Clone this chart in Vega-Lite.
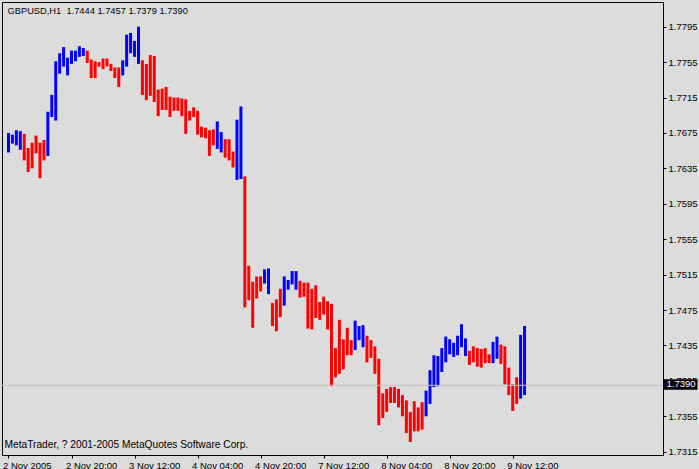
{
  "$schema": "https://vega.github.io/schema/vega-lite/v6.json",
  "autosize": "none",
  "padding": {"left": 2, "top": 2, "right": 36, "bottom": 14},
  "width": 661,
  "height": 453,
  "background": "#DCDCDC",
  "config": {
    "view": {"stroke": "#000000", "strokeWidth": 1, "fill": "#DCDCDC"},
    "axis": {"labelFont": "Liberation Sans", "labelFontSize": 9.5, "labelColor": "#000000", "tickColor": "#000000", "domain": false, "grid": false, "labelOverlap": false, "labelFlush": false, "labelBound": false}
  },
  "resolve": {"axis": {"y": "independent"}},
  "datasets": {
    "bars": [
      {"i":0,"h":1.7675,"l":1.7653,"c":"up"},{"i":1,"h":1.7673,"l":1.7663,"c":"up"},{"i":2,"h":1.7678,"l":1.7661,"c":"up"},{"i":3,"h":1.7677,"l":1.7656,"c":"up"},
      {"i":4,"h":1.7674,"l":1.7644,"c":"dn"},{"i":5,"h":1.7658,"l":1.7631,"c":"dn"},{"i":6,"h":1.7664,"l":1.7635,"c":"dn"},{"i":7,"h":1.7672,"l":1.7652,"c":"dn"},
      {"i":8,"h":1.7664,"l":1.7624,"c":"dn"},{"i":9,"h":1.7667,"l":1.7644,"c":"dn"},{"i":10,"h":1.7699,"l":1.7649,"c":"up"},{"i":11,"h":1.7718,"l":1.7693,"c":"up"},
      {"i":12,"h":1.7756,"l":1.7689,"c":"up"},{"i":13,"h":1.7765,"l":1.7742,"c":"up"},{"i":14,"h":1.7772,"l":1.7750,"c":"up"},{"i":15,"h":1.7760,"l":1.7740,"c":"up"},
      {"i":16,"h":1.7768,"l":1.7753,"c":"up"},{"i":17,"h":1.7768,"l":1.7756,"c":"up"},{"i":18,"h":1.7773,"l":1.7761,"c":"up"},{"i":19,"h":1.7771,"l":1.7762,"c":"up"},
      {"i":20,"h":1.7768,"l":1.7754,"c":"dn"},{"i":21,"h":1.7758,"l":1.7737,"c":"dn"},{"i":22,"h":1.7756,"l":1.7737,"c":"dn"},{"i":23,"h":1.7755,"l":1.7750,"c":"dn"},
      {"i":24,"h":1.7759,"l":1.7747,"c":"dn"},{"i":25,"h":1.7759,"l":1.7750,"c":"dn"},{"i":26,"h":1.7753,"l":1.7745,"c":"dn"},{"i":27,"h":1.7749,"l":1.7737,"c":"dn"},
      {"i":28,"h":1.7749,"l":1.7727,"c":"dn"},{"i":29,"h":1.7757,"l":1.7740,"c":"up"},{"i":30,"h":1.7786,"l":1.7750,"c":"up"},{"i":31,"h":1.7788,"l":1.7765,"c":"up"},
      {"i":32,"h":1.7779,"l":1.7761,"c":"up"},{"i":33,"h":1.7795,"l":1.7753,"c":"up"},{"i":34,"h":1.7757,"l":1.7718,"c":"dn"},{"i":35,"h":1.7753,"l":1.7712,"c":"dn"},
      {"i":36,"h":1.7763,"l":1.7717,"c":"dn"},{"i":37,"h":1.7762,"l":1.7710,"c":"dn"},{"i":38,"h":1.7724,"l":1.7694,"c":"dn"},{"i":39,"h":1.7725,"l":1.7701,"c":"dn"},
      {"i":40,"h":1.7727,"l":1.7701,"c":"dn"},{"i":41,"h":1.7716,"l":1.7693,"c":"dn"},{"i":42,"h":1.7715,"l":1.7700,"c":"dn"},{"i":43,"h":1.7715,"l":1.7700,"c":"dn"},
      {"i":44,"h":1.7714,"l":1.7694,"c":"dn"},{"i":45,"h":1.7713,"l":1.7674,"c":"dn"},{"i":46,"h":1.7700,"l":1.7689,"c":"dn"},{"i":47,"h":1.7704,"l":1.7693,"c":"dn"},
      {"i":48,"h":1.7700,"l":1.7673,"c":"dn"},{"i":49,"h":1.7682,"l":1.7670,"c":"dn"},{"i":50,"h":1.7681,"l":1.7669,"c":"dn"},{"i":51,"h":1.7678,"l":1.7649,"c":"dn"},
      {"i":52,"h":1.7679,"l":1.7661,"c":"dn"},{"i":53,"h":1.7688,"l":1.7657,"c":"up"},{"i":54,"h":1.7676,"l":1.7653,"c":"up"},{"i":55,"h":1.7668,"l":1.7647,"c":"dn"},
      {"i":56,"h":1.7668,"l":1.7644,"c":"dn"},{"i":57,"h":1.7654,"l":1.7636,"c":"dn"},{"i":58,"h":1.7690,"l":1.7622,"c":"up"},{"i":59,"h":1.7705,"l":1.7623,"c":"up"},
      {"i":60,"h":1.7626,"l":1.7478,"c":"dn"},{"i":61,"h":1.7525,"l":1.7486,"c":"dn"},{"i":62,"h":1.7507,"l":1.7455,"c":"dn"},{"i":63,"h":1.7513,"l":1.7488,"c":"dn"},
      {"i":64,"h":1.7513,"l":1.7496,"c":"dn"},{"i":65,"h":1.7521,"l":1.7505,"c":"up"},{"i":66,"h":1.7522,"l":1.7493,"c":"up"},{"i":67,"h":1.7483,"l":1.7457,"c":"dn"},
      {"i":68,"h":1.7487,"l":1.7451,"c":"dn"},{"i":69,"h":1.7499,"l":1.7467,"c":"dn"},{"i":70,"h":1.7513,"l":1.7480,"c":"up"},{"i":71,"h":1.7509,"l":1.7498,"c":"up"},
      {"i":72,"h":1.7519,"l":1.7504,"c":"up"},{"i":73,"h":1.7519,"l":1.7498,"c":"up"},{"i":74,"h":1.7508,"l":1.7489,"c":"dn"},{"i":75,"h":1.7506,"l":1.7490,"c":"dn"},
      {"i":76,"h":1.7506,"l":1.7454,"c":"dn"},{"i":77,"h":1.7499,"l":1.7453,"c":"dn"},{"i":78,"h":1.7503,"l":1.7466,"c":"dn"},{"i":79,"h":1.7484,"l":1.7464,"c":"dn"},
      {"i":80,"h":1.7490,"l":1.7470,"c":"dn"},{"i":81,"h":1.7485,"l":1.7453,"c":"dn"},{"i":82,"h":1.7482,"l":1.7389,"c":"dn"},{"i":83,"h":1.7432,"l":1.7399,"c":"dn"},
      {"i":84,"h":1.7464,"l":1.7403,"c":"dn"},{"i":85,"h":1.7442,"l":1.7408,"c":"dn"},{"i":86,"h":1.7455,"l":1.7424,"c":"dn"},{"i":87,"h":1.7441,"l":1.7424,"c":"dn"},
      {"i":88,"h":1.7463,"l":1.7430,"c":"up"},{"i":89,"h":1.7457,"l":1.7441,"c":"up"},{"i":90,"h":1.7458,"l":1.7433,"c":"up"},{"i":91,"h":1.7446,"l":1.7416,"c":"dn"},
      {"i":92,"h":1.7441,"l":1.7421,"c":"dn"},{"i":93,"h":1.7434,"l":1.7403,"c":"dn"},{"i":94,"h":1.7420,"l":1.7345,"c":"dn"},{"i":95,"h":1.7381,"l":1.7353,"c":"dn"},
      {"i":96,"h":1.7386,"l":1.7360,"c":"dn"},{"i":97,"h":1.7388,"l":1.7370,"c":"dn"},{"i":98,"h":1.7388,"l":1.7370,"c":"dn"},{"i":99,"h":1.7386,"l":1.7365,"c":"dn"},
      {"i":100,"h":1.7379,"l":1.7355,"c":"dn"},{"i":101,"h":1.7373,"l":1.7336,"c":"dn"},{"i":102,"h":1.7360,"l":1.7326,"c":"dn"},{"i":103,"h":1.7372,"l":1.7338,"c":"dn"},
      {"i":104,"h":1.7365,"l":1.7338,"c":"dn"},{"i":105,"h":1.7371,"l":1.7340,"c":"dn"},{"i":106,"h":1.7384,"l":1.7355,"c":"up"},{"i":107,"h":1.7407,"l":1.7369,"c":"up"},
      {"i":108,"h":1.7424,"l":1.7388,"c":"up"},{"i":109,"h":1.7423,"l":1.7389,"c":"up"},{"i":110,"h":1.7432,"l":1.7405,"c":"up"},{"i":111,"h":1.7445,"l":1.7416,"c":"up"},
      {"i":112,"h":1.7442,"l":1.7425,"c":"up"},{"i":113,"h":1.7438,"l":1.7422,"c":"up"},{"i":114,"h":1.7446,"l":1.7424,"c":"up"},{"i":115,"h":1.7459,"l":1.7433,"c":"up"},
      {"i":116,"h":1.7443,"l":1.7423,"c":"up"},{"i":117,"h":1.7429,"l":1.7413,"c":"dn"},{"i":118,"h":1.7434,"l":1.7416,"c":"dn"},{"i":119,"h":1.7432,"l":1.7411,"c":"dn"},
      {"i":120,"h":1.7431,"l":1.7410,"c":"dn"},{"i":121,"h":1.7432,"l":1.7415,"c":"dn"},{"i":122,"h":1.7425,"l":1.7415,"c":"dn"},{"i":123,"h":1.7439,"l":1.7415,"c":"up"},
      {"i":124,"h":1.7445,"l":1.7420,"c":"up"},{"i":125,"h":1.7436,"l":1.7414,"c":"dn"},{"i":126,"h":1.7434,"l":1.7391,"c":"dn"},{"i":127,"h":1.7410,"l":1.7379,"c":"dn"},
      {"i":128,"h":1.7391,"l":1.7361,"c":"dn"},{"i":129,"h":1.7399,"l":1.7369,"c":"dn"},{"i":130,"h":1.7447,"l":1.7375,"c":"up"},{"i":131,"h":1.7457,"l":1.7379,"c":"up"}
    ],
    "last": [{"close": 1.739}]
  },
  "layer": [
    {
      "data": {"name": "bars"},
      "mark": {"type": "bar", "width": 3},
      "encoding": {
        "x": {
          "field": "i", "type": "quantitative",
          "scale": {"domain": [-0.375, 164.875], "nice": false, "zero": false},
          "axis": {
            "orient": "bottom",
            "values": [0, 16, 32, 48, 64, 80, 96, 112, 128],
            "labelExpr": "['2 Nov 2005','2 Nov 20:00','3 Nov 12:00','4 Nov 04:00','4 Nov 20:00','7 Nov 12:00','8 Nov 04:00','8 Nov 20:00','9 Nov 12:00'][datum.value/16]",
            "labelAlign": "left", "labelOffset": -6, "labelBaseline": "alphabetic",
            "labelOverlap": false, "labelFlush": false, "labelBound": false,
            "tickSize": 3, "labelPadding": 10,
            "title": "MetaTrader, ? 2001-2005 MetaQuotes Software Corp.",
            "titleX": 2, "titleY": -8, "titleAlign": "left", "titleBaseline": "alphabetic",
            "titleFont": "Liberation Sans", "titleFontSize": 10.2, "titleFontWeight": "normal", "titleColor": "#000000"
          }
        },
        "y": {
          "field": "h", "type": "quantitative",
          "scale": {"domain": [1.73113, 1.78229], "nice": false, "zero": false},
          "axis": {
            "orient": "right",
            "values": [1.7315, 1.7355, 1.7395, 1.7435, 1.7475, 1.7515, 1.7555, 1.7595, 1.7635, 1.7675, 1.7715, 1.7755, 1.7795],
            "format": ".4f",
            "labelOverlap": false, "labelFlush": false, "labelBound": false,
            "tickSize": 3, "labelPadding": 2,
            "title": "GBPUSD,H1\u00a0 1.7444 1.7457 1.7379 1.7390",
            "titleAngle": 0, "titleX": -656, "titleY": 11.3, "titleAlign": "left", "titleBaseline": "alphabetic",
            "titleFont": "Liberation Sans", "titleFontSize": 9.3, "titleFontWeight": "normal", "titleColor": "#000000"
          }
        },
        "y2": {"field": "l"},
        "color": {
          "field": "c", "type": "nominal",
          "scale": {"domain": ["up", "dn"], "range": ["#0000FF", "#FF0000"]},
          "legend": null
        }
      }
    },
    {
      "data": {"name": "last"},
      "mark": {"type": "rule", "color": "#C0C0C0", "strokeWidth": 1},
      "encoding": {
        "y": {
          "field": "close", "type": "quantitative",
          "axis": {
            "orient": "right",
            "values": [1.739],
            "format": ".4f",
            "title": null,
            "tickSize": 34, "tickWidth": 10.5, "tickColor": "#000000", "tickOffset": -1.5,
            "labelPadding": -31, "labelColor": "#FFFFFF"
          }
        }
      }
    }
  ]
}
